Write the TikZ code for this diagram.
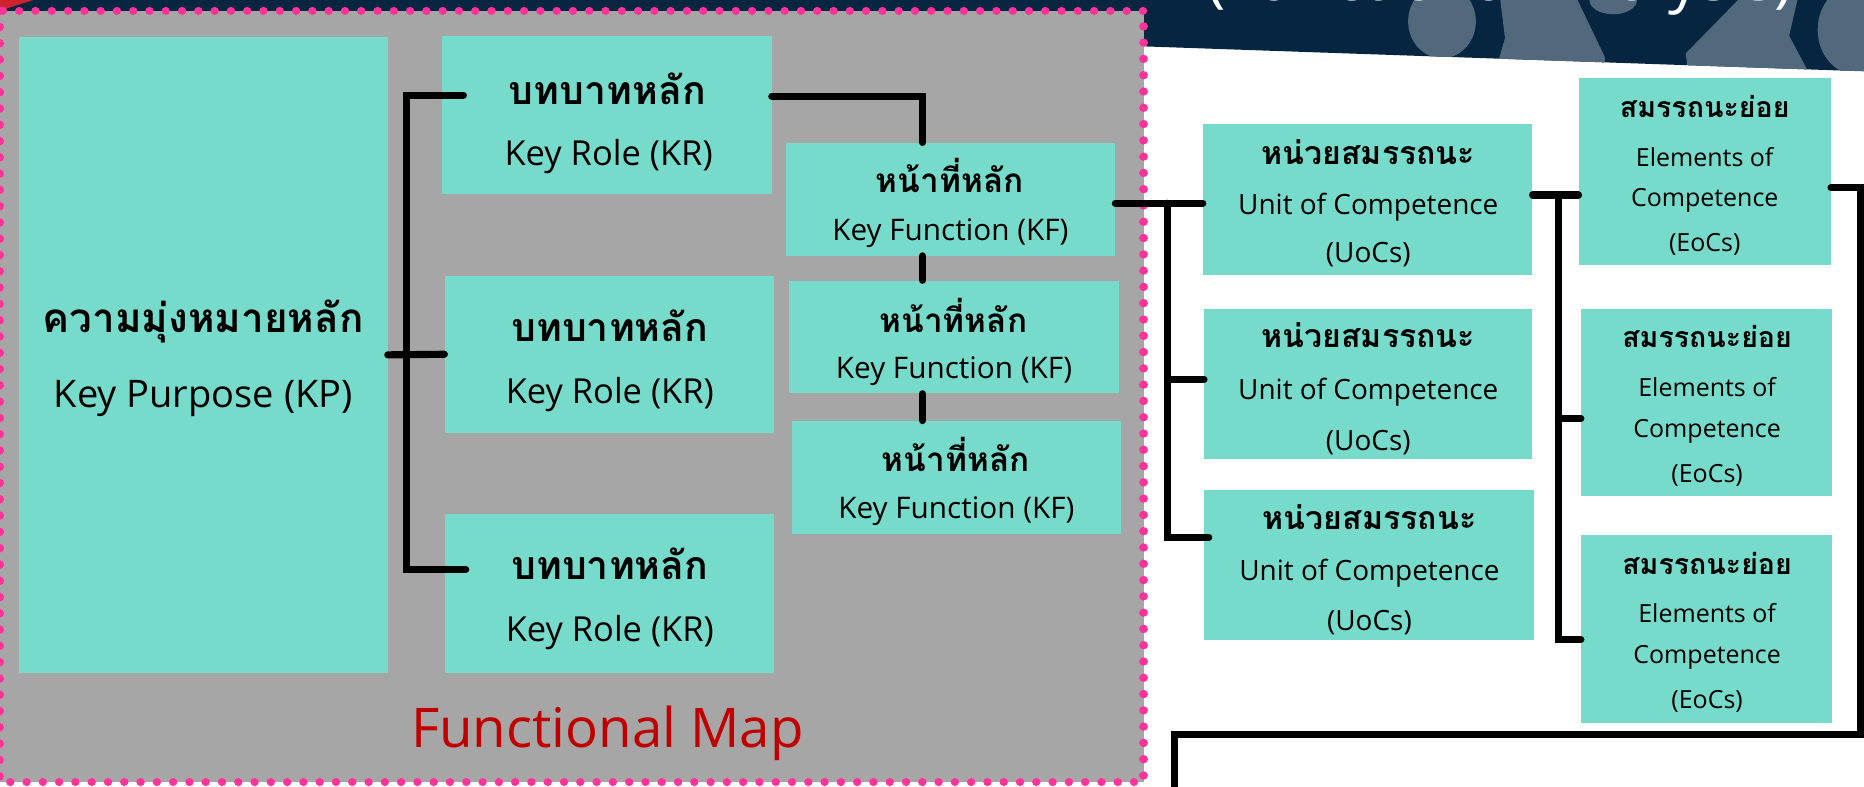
\documentclass[tikz,border=0pt]{standalone}
\usepackage{fontspec}
\setmainfont{Open Sans}
\newfontfamily\thaifont[Script=Thai]{Loma}
\usepackage{tikz}
\definecolor{boxteal}{RGB}{118,219,203}
\definecolor{panelgray}{RGB}{166,166,166}
\definecolor{dotpink}{RGB}{255,51,153}
\definecolor{bandnavy}{RGB}{6,37,65}
\definecolor{shadeblue}{RGB}{82,104,125}
\definecolor{mapred}{RGB}{192,0,0}
\definecolor{cornerred}{RGB}{204,35,45}
\tikzstyle{box}=[rectangle,fill=boxteal,inner sep=0pt]
\tikzstyle{kpbox}=[box,minimum width=310pt,minimum height=535pt]
\tikzstyle{krbox}=[box,minimum width=277pt,minimum height=133pt]
\tikzstyle{kfbox}=[box,minimum width=277pt,minimum height=95pt]
\tikzstyle{uocbox}=[box,minimum width=277pt,minimum height=127pt]
\tikzstyle{eocbox}=[box,minimum width=211pt,minimum height=157pt]
\tikzstyle{link}=[draw=black,line width=6pt,line cap=round]
\tikzstyle{kpth}=[inner sep=0pt,font=\thaifont\bfseries\fontsize{34}{40}\selectfont]
\tikzstyle{kpen}=[inner sep=0pt,font=\fontsize{32}{38}\selectfont]
\tikzstyle{krth}=[inner sep=0pt,font=\thaifont\bfseries\fontsize{33}{40}\selectfont]
\tikzstyle{kren}=[inner sep=0pt,font=\fontsize{29}{35}\selectfont]
\tikzstyle{kfth}=[inner sep=0pt,font=\thaifont\bfseries\fontsize{28}{34}\selectfont]
\tikzstyle{kfen}=[inner sep=0pt,font=\fontsize{25}{30}\selectfont]
\tikzstyle{uocth}=[inner sep=0pt,font=\thaifont\bfseries\fontsize{27}{32}\selectfont]
\tikzstyle{uocen}=[inner sep=0pt,font=\fontsize{23.5}{28}\selectfont]
\tikzstyle{eocth}=[inner sep=0pt,font=\thaifont\bfseries\fontsize{24}{29}\selectfont]
\tikzstyle{eocen}=[inner sep=0pt,font=\fontsize{21}{25}\selectfont]
\tikzstyle{pinkdots}=[draw=dotpink,line width=7pt,line cap=round,dash pattern=on 0.1pt off 13.6pt]

\begin{document}
\begin{tikzpicture}[x=1pt,y=-1pt]
\useasboundingbox (0,0) rectangle (1568,662);
\clip (0,0) rectangle (1568,662);
\fill[white] (0,0) rectangle (1568,662);
% banner at the top
\fill[bandnavy] (0,0) rectangle (962,12);
\fill[cornerred] (0,0) -- (28,0) -- (0,9) -- cycle;
\begin{scope}
\clip (962,0) -- (1568,0) -- (1568,60) -- (962,39) -- cycle;
\fill[bandnavy] (962,0) rectangle (1568,60);
\fill[shadeblue] (1213,18) ellipse (28.5 and 31);
\fill[shadeblue] (1357,0) ellipse (20 and 12);
\fill[shadeblue] (1262,0) -- (1327,0) -- (1350,48) -- (1350,60) -- (1258,60) -- (1266,32) -- cycle;
\fill[shadeblue] (1462,0) -- (1512,0) -- (1505,30) -- (1522,62) -- (1420,60) -- (1418,45) -- cycle;
\fill[shadeblue] (1562,25) ellipse (33 and 38);
\end{scope}
\node[anchor=base,inner sep=0pt,text=white,font=\fontsize{52}{60}\selectfont] (title) at (1262,0) {(Functional Analysis)};
% functional map panel
\fill[panelgray] (0,9) rectangle (962,658);
\draw[pinkdots] (0,9) rectangle (962,658);
\node[inner sep=0pt,text=mapred,font=\fontsize{46}{54}\selectfont] (fmap) at (511,617) {Functional Map};

\draw (171,298.5) node[kpbox] (kp) {};
\draw (171,270) node[kpth] (kpa) {ความมุ่งหมายหลัก};
\draw (171,335) node[kpen] (kpb) {Key Purpose (KP)};

\draw (510.5,96.5) node[krbox] (kr1) {};
\draw (511,75) node[krth] (kr1a) {บทบาทหลัก};
\draw (512,132) node[kren] (kr1b) {Key Role (KR)};
\draw (512.5,298) node[krbox,minimum height=132pt] (kr2) {};
\draw (513,274) node[krth] (kr2a) {บทบาทหลัก};
\draw (513,332) node[kren] (kr2b) {Key Role (KR)};
\draw (512.5,499) node[krbox,minimum height=134pt] (kr3) {};
\draw (513,474) node[krth] (kr3a) {บทบาทหลัก};
\draw (513,532) node[kren] (kr3b) {Key Role (KR)};

% key purpose to key roles
\coordinate (krbus1) at (342,80);
\coordinate (krbus3) at (342,479);
\draw[link] ([xshift=18pt]kr1.west |- krbus1) -- (krbus1) -- (krbus3) -- ([xshift=18pt]kr3.west |- krbus3);
\draw[link] (kp.east) -- (kr2.west);

\draw (799.5,167.5) node[kfbox] (kf1) {};
\draw (799,148) node[kfth] (kf1a) {หน้าที่หลัก};
\draw (799.5,196) node[kfen] (kf1b) {Key Function (KF)};
\draw (802.5,283.5) node[kfbox] (kf2) {};
\draw (802,265) node[kfth] (kf2a) {หน้าที่หลัก};
\draw (802.5,312) node[kfen] (kf2b) {Key Function (KF)};
\draw (804.5,401.5) node[kfbox] (kf3) {};
\draw (804,382) node[kfth] (kf3a) {หน้าที่หลัก};
\draw (804.5,430) node[kfen] (kf3b) {Key Function (KF)};

% key role to key functions
\coordinate (kfbus) at (776,81);
\draw[link] (kr1.east |- kfbus) -- (kfbus) -- (kfbus |- kf1.north);
\draw[link] (kfbus |- kf1.south) -- (kfbus |- kf2.north);
\draw[link] (kfbus |- kf2.south) -- (kfbus |- kf3.north);

\draw (1150.5,167.5) node[uocbox] (uoc1) {};
\draw (1151,128) node[uocth] (uoc1a) {หน่วยสมรรถนะ};
\draw (1151,174) node[uocen] (uoc1b) {Unit of Competence};
\draw (1151,214) node[uocen] (uoc1c) {(UoCs)};
\draw (1151,323) node[uocbox,minimum width=276pt,minimum height=126pt] (uoc2) {};
\draw (1151,282) node[uocth] (uoc2a) {หน่วยสมรรถนะ};
\draw (1151,330) node[uocen] (uoc2b) {Unit of Competence};
\draw (1151,372) node[uocen] (uoc2c) {(UoCs)};
\draw (1151.5,475) node[uocbox,minimum height=126pt] (uoc3) {};
\draw (1152,435) node[uocth] (uoc3a) {หน่วยสมรรถนะ};
\draw (1152,482) node[uocen] (uoc3b) {Unit of Competence};
\draw (1152,524) node[uocen] (uoc3c) {(UoCs)};

% key function to units
\coordinate (uocbus1) at (982,171);
\coordinate (uocbus2) at (982,319);
\coordinate (uocbus3) at (982,452);
\draw[link] (kf1.east |- uocbus1) -- (uoc1.west |- uocbus1);
\draw[link] (uocbus1) -- (uocbus3) -- ([xshift=4pt]uoc3.west |- uocbus3);
\draw[link] (uocbus2) -- (uoc2.west |- uocbus2);

\draw (1434,144.5) node[eocbox,minimum width=212pt] (eoc1) {};
\draw (1434,90) node[eocth] (eoc1a) {สมรรถนะย่อย};
\draw (1434,132) node[eocen] (eoc1b) {Elements of};
\draw (1434,169) node[eocen] (eoc1c) {Competence};
\draw (1434,206) node[eocen] (eoc1d) {(EoCs)};
\draw (1435.5,338.5) node[eocbox] (eoc2) {};
\draw (1436,283) node[eocth] (eoc2a) {สมรรถนะย่อย};
\draw (1436,326) node[eocen] (eoc2b) {Elements of};
\draw (1436,363) node[eocen] (eoc2c) {Competence};
\draw (1436,400) node[eocen] (eoc2d) {(EoCs)};
\draw (1435.5,529) node[eocbox,minimum height=158pt] (eoc3) {};
\draw (1436,474) node[eocth] (eoc3a) {สมรรถนะย่อย};
\draw (1436,516) node[eocen] (eoc3b) {Elements of};
\draw (1436,553) node[eocen] (eoc3c) {Competence};
\draw (1436,590) node[eocen] (eoc3d) {(EoCs)};

% units to elements
\coordinate (eocbus1) at (1311,164);
\coordinate (eocbus2) at (1311,352);
\coordinate (eocbus3) at (1311,538);
\draw[link] (uoc1.east |- eocbus1) -- (eoc1.west |- eocbus1);
\draw[link] (eocbus1) -- (eocbus3) -- (eoc3.west |- eocbus3);
\draw[link] (eocbus2) -- (eoc2.west |- eocbus2);

% line running on to the next part
\coordinate (rbus1) at (1565,158);
\coordinate (rbus2) at (1565,618);
\coordinate (rbus3) at (988,618);
\coordinate (rbus4) at (988,690);
\draw[link] (eoc1.east |- rbus1) -- (rbus1) -- (rbus2) -- (rbus3) -- (rbus4);
\end{tikzpicture}
\end{document}
